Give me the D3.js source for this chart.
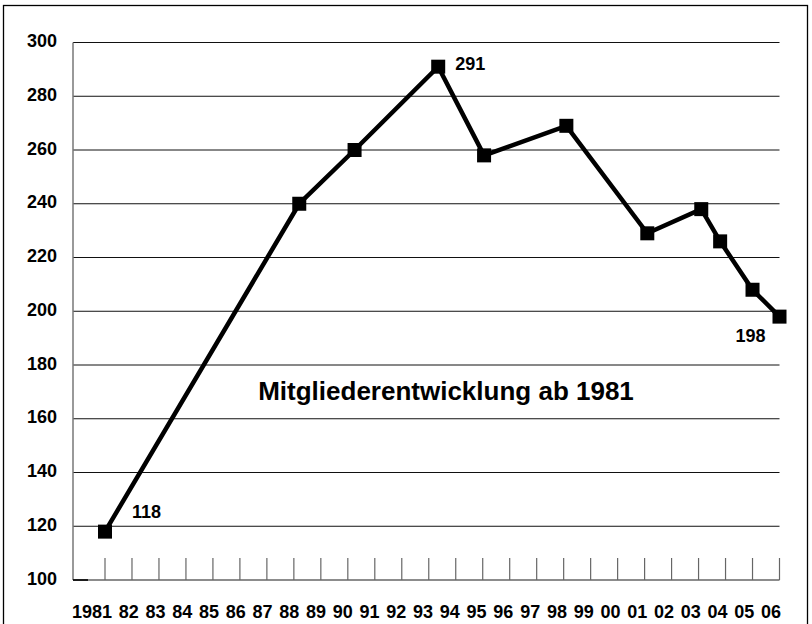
<!DOCTYPE html>
<html>
<head>
<meta charset="utf-8">
<script src="https://cdn.jsdelivr.net/npm/d3@7"></script>
<style>
  html, body { margin: 0; padding: 0; background: #fff; }
  svg { display: block; }
  text { font-family: "Liberation Sans", Arial, sans-serif; font-weight: bold; fill: #000; }
</style>
</head>
<body>
<svg id="chart" width="812" height="624"></svg>
<script>
// ---- data ----
const pointYears = [1981, 1988.2, 1990.25, 1993.35, 1995.05, 1998.1, 2001.1, 2003.1, 2003.8, 2005, 2006];
const members    = [118, 240, 260, 291, 258, 269, 229, 238, 226, 208, 198];
const tickYears  = d3.range(1981, 2007);
const tickLabels = ["1981","82","83","84","85","86","87","88","89","90","91","92","93","94","95","96","97","98","99","00","01","02","03","04","05","06"];
const yTicks     = [100, 120, 140, 160, 180, 200, 220, 240, 260, 280, 300];
const labeledIdx = [0, 3, 10];
const title      = "Mitgliederentwicklung ab 1981";

// ---- layout ----
const svg = d3.select("#chart");
const x = d3.scaleLinear().domain([1981, 2006]).range([105, 779.5]);
const y = d3.scaleLinear().domain([100, 300]).range([580, 42.5]);
const xLab = d3.scalePoint().domain(tickLabels).range([112, 781]);
const plotLeft = 73, plotRight = x(2006);

// outer frame
svg.append("rect").attr("x", 3.5).attr("y", 5.5).attr("width", 804).attr("height", 630)
  .attr("fill", "none").attr("stroke", "#000").attr("stroke-width", 1.3);

// gridlines
svg.append("g").selectAll("line").data(yTicks.filter(d => d > 100)).join("line")
  .attr("x1", plotLeft).attr("x2", plotRight)
  .attr("y1", d => y(d)).attr("y2", d => y(d))
  .attr("stroke", "#111").attr("stroke-width", 1);

// y axis line
svg.append("line").attr("x1", plotLeft).attr("x2", plotLeft)
  .attr("y1", y(300)).attr("y2", y(100)).attr("stroke", "#777").attr("stroke-width", 1.5);

// baseline
svg.append("line").attr("x1", plotLeft).attr("x2", plotRight)
  .attr("y1", y(100)).attr("y2", y(100)).attr("stroke", "#666").attr("stroke-width", 1.3);
svg.append("line").attr("x1", plotLeft).attr("x2", plotLeft + 15)
  .attr("y1", y(100)).attr("y2", y(100)).attr("stroke", "#000").attr("stroke-width", 1.6);

// x ticks
svg.append("g").selectAll("line").data(tickYears).join("line")
  .attr("x1", d => x(d)).attr("x2", d => x(d))
  .attr("y1", y(100) - 22).attr("y2", y(100))
  .attr("stroke", "#666").attr("stroke-width", 1.2);

// y labels
svg.append("g").selectAll("text").data(yTicks).join("text")
  .attr("x", 57).attr("y", d => y(d) + 4.5)
  .attr("text-anchor", "end").attr("font-size", 18)
  .text(d => d);

// x labels
svg.append("g").selectAll("text").data(tickLabels).join("text")
  .attr("x", d => xLab(d)).attr("y", 618)
  .attr("text-anchor", "end").attr("font-size", 18)
  .text(d => d);

// line
const pts = pointYears.map((yr, i) => [yr, members[i]]);
svg.append("path").datum(pts)
  .attr("d", d3.line().x(d => x(d[0])).y(d => y(d[1])))
  .attr("fill", "none").attr("stroke", "#000").attr("stroke-width", 4.5)
  .attr("stroke-linejoin", "miter");

// markers
const ms = 14;
svg.append("g").selectAll("rect").data(pts).join("rect")
  .attr("x", d => x(d[0]) - ms / 2).attr("y", d => y(d[1]) - ms / 2)
  .attr("width", ms).attr("height", ms).attr("fill", "#000");

// value labels
const offs = { 0: [27, -13.5, "start"], 3: [17, 3.5, "start"], 10: [-14, 25.5, "end"] };
svg.append("g").selectAll("text").data(labeledIdx).join("text")
  .attr("x", i => x(pointYears[i]) + offs[i][0])
  .attr("y", i => y(members[i]) + offs[i][1])
  .attr("text-anchor", i => offs[i][2]).attr("font-size", 18)
  .text(i => members[i]);

// title
svg.append("text").attr("x", 446).attr("y", 400)
  .attr("text-anchor", "middle").attr("font-size", 26)
  .text(title);
</script>
</body>
</html>
